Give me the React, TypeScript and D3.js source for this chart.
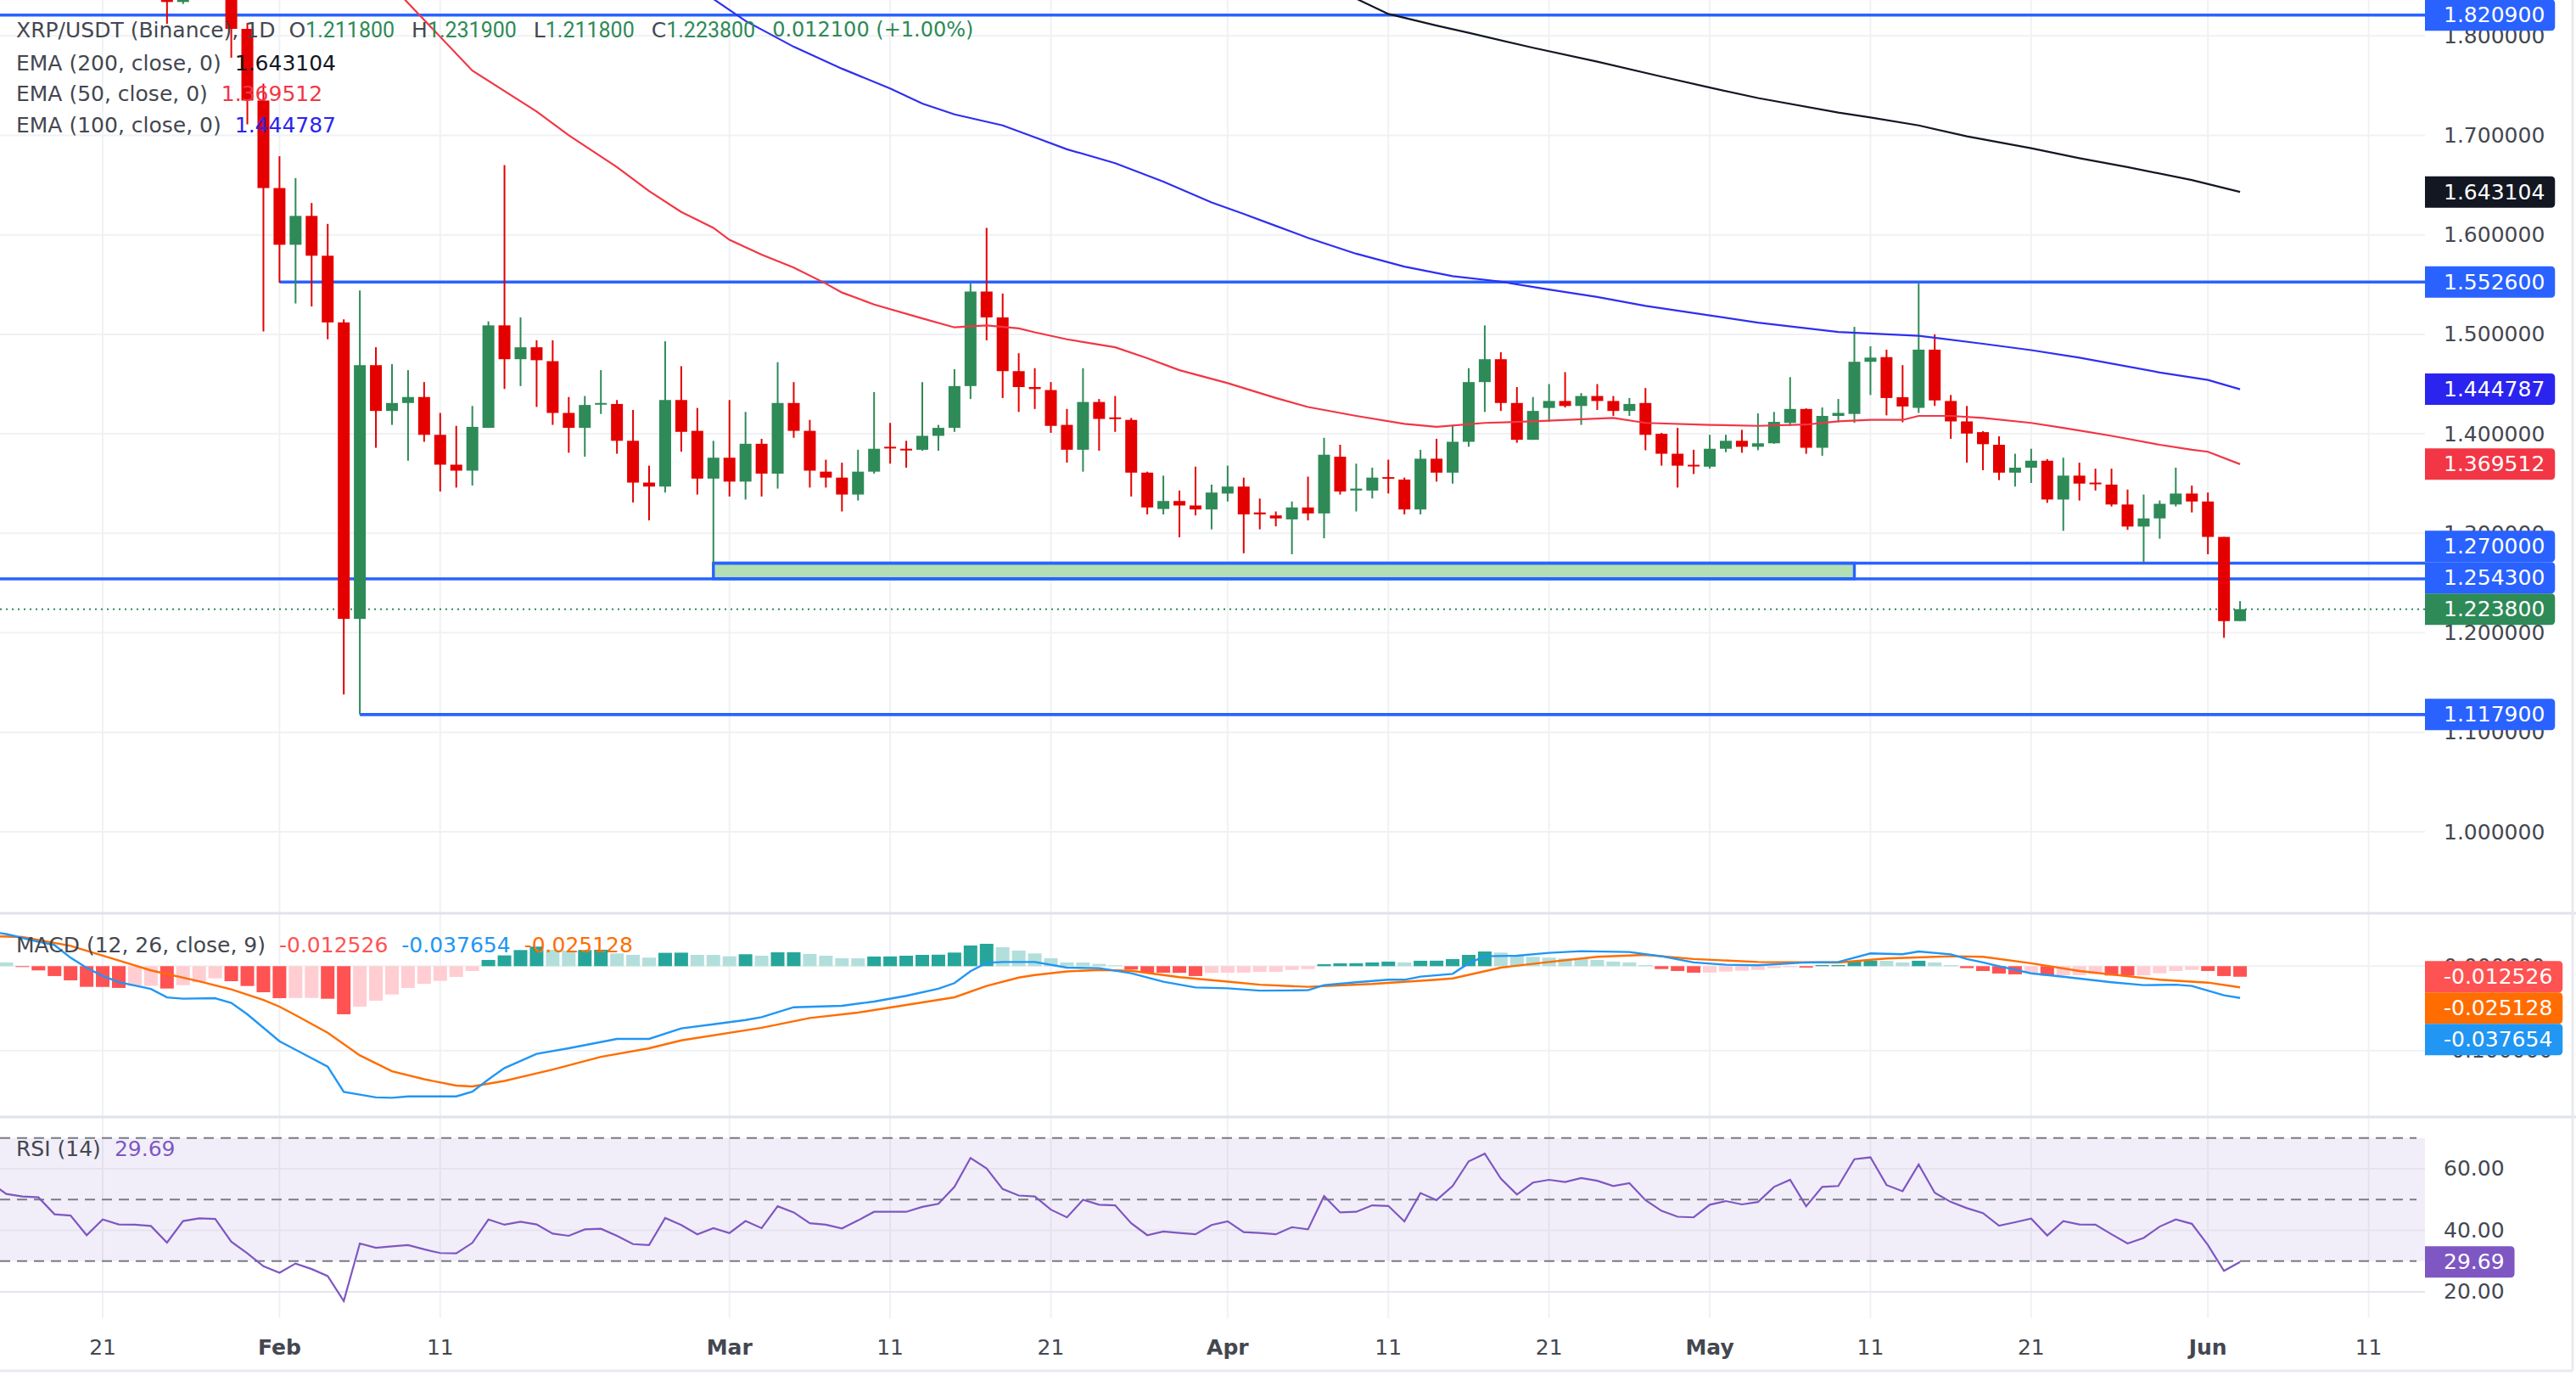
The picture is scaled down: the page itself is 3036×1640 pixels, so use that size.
import React from "react";
import * as d3 from "d3";

const YEAR = 2026;
const day = (s: string) => new Date(`${YEAR}-${s}T00:00:00Z`);

// ---------- Candles ----------
const candleDates = [
  "01-25","01-26","01-29","01-30","01-31",
  "02-01","02-02","02-03","02-04","02-05","02-06","02-07","02-08","02-09","02-10",
  "02-11","02-12","02-13","02-14","02-15","02-16","02-17","02-18","02-19","02-20",
  "02-21","02-22","02-23","02-24","02-25","02-26","02-27","02-28",
  "03-01","03-02","03-03","03-04","03-05","03-06","03-07","03-08","03-09","03-10",
  "03-11","03-12","03-13","03-14","03-15","03-16","03-17","03-18","03-19","03-20",
  "03-21","03-22","03-23","03-24","03-25","03-26","03-27","03-28","03-29","03-30","03-31",
  "04-01","04-02","04-03","04-04","04-05","04-06","04-07","04-08","04-09","04-10",
  "04-11","04-12","04-13","04-14","04-15","04-16","04-17","04-18","04-19","04-20",
  "04-21","04-22","04-23","04-24","04-25","04-26","04-27","04-28","04-29","04-30",
  "05-01","05-02","05-03","05-04","05-05","05-06","05-07","05-08","05-09","05-10",
  "05-11","05-12","05-13","05-14","05-15","05-16","05-17","05-18","05-19","05-20",
  "05-21","05-22","05-23","05-24","05-25","05-26","05-27","05-28","05-29","05-30","05-31",
  "06-01","06-02","06-03",
];
const opens = [
  1.870,1.834,1.875,1.807,1.735,
  1.647,1.590,1.619,1.579,1.512,1.214,1.469,1.423,1.431,1.437,
  1.399,1.369,1.363,1.406,1.509,1.475,1.487,1.473,1.421,1.406,
  1.430,1.430,1.393,1.351,1.347,1.434,1.403,1.355,
  1.376,1.352,1.390,1.360,1.431,1.403,1.362,1.356,1.339,1.362,
  1.387,1.385,1.384,1.398,1.406,1.448,1.543,1.517,1.463,1.447,
  1.444,1.409,1.384,1.432,1.4165,1.414,1.361,1.3245,1.3325,1.328,1.324,
  1.340,1.347,1.321,1.318,1.314,1.326,1.320,1.377,1.343,1.343,
  1.3565,1.354,1.324,1.375,1.361,1.392,1.452,1.475,1.431,1.394,
  1.426,1.433,1.428,1.438,1.433,1.423,1.431,1.400,1.380,1.3689,
  1.367,1.385,1.393,1.387,1.3905,1.411,1.425,1.386,1.418,1.420,
  1.4724,1.4771,1.4368,1.4261,1.4846,1.433,1.4125,1.4017,1.389,1.361,
  1.366,1.373,1.334,1.358,1.351,1.349,1.329,1.3068,1.315,1.329,1.340,
  1.332,1.2964,1.2118,
];
const highs = [
  1.905,1.900,1.895,1.813,1.752,
  1.679,1.657,1.632,1.611,1.515,1.544,1.487,1.470,1.464,1.452,
  1.421,1.408,1.428,1.513,1.670,1.517,1.494,1.494,1.437,1.438,
  1.464,1.434,1.424,1.368,1.493,1.468,1.426,1.393,
  1.434,1.422,1.395,1.472,1.452,1.414,1.374,1.371,1.384,1.442,
  1.411,1.393,1.452,1.409,1.465,1.551,1.607,1.541,1.481,1.466,
  1.452,1.425,1.466,1.435,1.438,1.416,1.362,1.358,1.343,1.367,1.349,
  1.368,1.356,1.335,1.322,1.332,1.357,1.396,1.389,1.370,1.366,
  1.374,1.356,1.384,1.395,1.409,1.466,1.509,1.482,1.447,1.437,
  1.450,1.462,1.441,1.450,1.438,1.436,1.446,1.401,1.406,1.384,
  1.399,1.399,1.404,1.4205,1.422,1.457,1.4256,1.4265,1.435,1.5075,
  1.488,1.4846,1.469,1.551,1.500,1.439,1.428,1.4027,1.3975,1.380,
  1.385,1.3746,1.376,1.371,1.365,1.365,1.344,1.339,1.333,1.366,1.348,
  1.341,1.2964,1.2319,
];
const lows = [
  1.812,1.832,1.778,1.711,1.503,
  1.552,1.531,1.528,1.495,1.138,1.1179,1.386,1.409,1.373,1.392,
  1.342,1.346,1.348,1.406,1.445,1.448,1.427,1.409,1.381,1.377,
  1.420,1.380,1.331,1.313,1.341,1.382,1.339,1.270,
  1.337,1.334,1.337,1.345,1.396,1.346,1.346,1.322,1.333,1.360,
  1.370,1.366,1.383,1.383,1.402,1.435,1.494,1.436,1.422,1.425,
  1.401,1.371,1.362,1.383,1.402,1.337,1.319,1.319,1.296,1.318,1.304,
  1.332,1.280,1.304,1.307,1.279,1.313,1.295,1.339,1.322,1.335,
  1.340,1.319,1.319,1.352,1.350,1.387,1.422,1.423,1.391,1.394,
  1.412,1.4265,1.409,1.424,1.418,1.418,1.3835,1.368,1.346,1.3596,
  1.365,1.3816,1.381,1.3835,1.390,1.408,1.380,1.378,1.4116,1.411,
  1.439,1.4186,1.4116,1.421,1.428,1.395,1.371,1.3634,1.3535,1.347,
  1.3507,1.3306,1.3025,1.333,1.343,1.327,1.3035,1.270,1.2946,1.327,1.321,
  1.279,1.195,1.2118,
];
const closes = [
  1.834,1.865,1.807,1.735,1.647,
  1.590,1.619,1.579,1.512,1.214,1.469,1.423,1.431,1.437,1.399,
  1.369,1.363,1.407,1.509,1.475,1.487,1.474,1.421,1.406,1.429,
  1.431,1.393,1.351,1.347,1.434,1.402,1.355,1.376,
  1.352,1.390,1.360,1.431,1.403,1.363,1.356,1.339,1.362,1.385,
  1.386,1.384,1.398,1.406,1.448,1.543,1.517,1.463,1.447,1.445,
  1.408,1.384,1.432,1.415,1.4148,1.361,1.326,1.3325,1.328,1.324,1.341,
  1.347,1.319,1.319,1.315,1.326,1.320,1.379,1.342,1.345,1.356,
  1.355,1.324,1.375,1.361,1.392,1.452,1.475,1.431,1.394,1.423,
  1.433,1.428,1.438,1.433,1.423,1.430,1.399,1.380,1.368,1.368,
  1.385,1.393,1.387,1.3905,1.412,1.425,1.386,1.418,1.421,1.4724,
  1.4766,1.436,1.4275,1.4846,1.4336,1.4125,1.4003,1.3896,1.361,1.366,
  1.373,1.334,1.358,1.350,1.3498,1.329,1.3068,1.315,1.3297,1.340,1.332,
  1.2964,1.2118,1.2238,
];

// ---------- EMAs (date, value) ----------
const ema50: [string, number][] = [
  ["02-08",1.850],["02-13",1.765],["02-17",1.724],["02-19",1.700],["02-22",1.668],
  ["02-24",1.644],["02-26",1.623],["02-28",1.607],["03-01",1.595],["03-03",1.580],
  ["03-05",1.567],["03-07",1.551],["03-08",1.542],["03-10",1.530],["03-13",1.516],
  ["03-15",1.507],["03-17",1.509],["03-19",1.506],["03-20",1.502],["03-22",1.495],
  ["03-25",1.487],["03-27",1.476],["03-29",1.464],["04-01",1.451],["04-04",1.436],
  ["04-06",1.427],["04-09",1.418],["04-12",1.410],["04-14",1.407],["04-17",1.411],
  ["04-20",1.4125],["04-25",1.416],["04-27",1.411],["05-01",1.409],["05-04",1.408],
  ["05-07",1.4093],["05-09",1.4125],["05-11",1.414],["05-13",1.414],["05-14",1.418],
  ["05-16",1.418],["05-18",1.416],["05-21",1.411],["05-23",1.406],["05-26",1.398],
  ["05-29",1.389],["05-31",1.384],["06-01",1.382],["06-03",1.369512],
];
const ema100: [string, number][] = [
  ["02-28",1.837],["03-02",1.815],["03-05",1.789],["03-08",1.767],["03-11",1.747],
  ["03-13",1.732],["03-15",1.721],["03-18",1.710],["03-20",1.698],["03-22",1.686],
  ["03-25",1.672],["03-28",1.6535],["03-31",1.6325],["04-02",1.621],["04-04",1.609],
  ["04-06",1.597],["04-09",1.581],["04-12",1.568],["04-15",1.5585],["04-18",1.553],
  ["04-21",1.545],["04-24",1.5375],["04-27",1.5286],["05-01",1.519],["05-04",1.5117],
  ["05-09",1.5024],["05-14",1.4986],["05-18",1.4905],["05-21",1.4841],["05-24",1.4765],
  ["05-29",1.4617],["06-01",1.4542],["06-03",1.444787],
];
const ema200: [string, number][] = [
  ["04-08",1.845],["04-11",1.822],["04-14",1.8103],["04-16",1.803],["04-20",1.788],
  ["04-24",1.774],["04-28",1.759],["05-01",1.748],["05-04",1.7375],["05-09",1.7228],
  ["05-11",1.718],["05-14",1.710],["05-17",1.699],["05-21",1.687],["05-24",1.677],
  ["05-27",1.668],["05-31",1.655],["06-03",1.643104],
];

// ---------- MACD ----------
const histStart = "01-15";
const histValues = [
  0.0044,-0.0010,-0.0050,-0.0117,-0.0168,-0.0245,-0.0246,-0.0258,-0.0235,-0.0234,-0.0265,-0.0225,-0.0191,-0.0144,-0.0178,-0.0235,-0.0309,
  -0.0379,-0.0377,-0.0376,-0.0386,-0.0570,-0.0480,-0.0409,-0.0336,-0.0258,-0.0208,-0.0174,-0.0128,-0.0057,0.0074,0.0128,0.0191,0.0232,0.0195,0.0185,0.0191,0.0195,0.0151,0.0134,0.0101,0.0158,0.0160,0.0134,0.0133,
  0.0117,0.0141,0.0124,0.0164,0.0165,0.0144,0.0124,0.0094,0.0093,0.0114,0.0115,0.0124,0.0134,0.0136,0.0161,0.0245,0.0265,0.0225,0.0185,0.0151,0.0094,0.0044,0.0043,0.0027,0.0010,-0.0040,-0.0077,-0.0078,-0.0079,-0.0117,-0.0080,
  -0.0077,-0.0076,-0.0068,-0.0067,-0.0044,-0.0034,0.0023,0.0034,0.0035,0.0044,0.0054,0.0044,0.0064,0.0065,0.0084,0.0134,0.0174,0.0161,0.0124,0.0111,0.0101,0.0091,0.0090,0.0074,0.0054,0.0044,0.0013,-0.0034,-0.0057,-0.0077,
  -0.0076,-0.0064,-0.0054,-0.0044,-0.0023,-0.0013,-0.0017,0.0013,0.0014,0.0054,0.0064,0.0063,0.0044,0.0064,0.0044,0.0013,-0.0023,-0.0057,-0.0087,-0.0097,-0.0077,-0.0111,-0.0108,-0.0107,-0.0094,-0.0111,-0.0112,-0.0108,-0.0084,-0.0057,-0.0044,
  -0.0057,-0.0117,-0.012526,
];
const macdLine: [string, number][] = [
  ["01-14",0.041],["01-15",0.038],["01-17",0.029],["01-18",0.025],["01-19",0.010],["01-20",-0.002],
  ["01-21",-0.0117],["01-22",-0.019],["01-24",-0.027],["01-25",-0.037],["01-26",-0.0386],["01-28",-0.038],
  ["01-29",-0.0436],["01-30",-0.057],["02-01",-0.089],["02-02",-0.099],["02-04",-0.119],["02-05",-0.149],
  ["02-07",-0.1555],["02-08",-0.156],["02-09",-0.1544],["02-11",-0.1544],["02-12",-0.1544],["02-13",-0.1487],
  ["02-14",-0.1342],["02-15",-0.1208],["02-17",-0.104],["02-19",-0.0973],["02-22",-0.0862],["02-24",-0.0862],
  ["02-26",-0.0738],["02-28",-0.0688],["03-02",-0.0638],["03-03",-0.0604],["03-05",-0.0487],["03-08",-0.047],
  ["03-10",-0.0419],["03-12",-0.0352],["03-14",-0.0268],["03-15",-0.0201],["03-16",-0.006],["03-17",0.004],
  ["03-18",0.005],["03-20",0.005],["03-22",-0.0017],["03-24",-0.0023],["03-26",-0.0084],["03-28",-0.0185],
  ["03-30",-0.0252],["04-01",-0.0262],["04-03",-0.029],["04-05",-0.0287],["04-06",-0.0285],["04-07",-0.0225],
  ["04-09",-0.0191],["04-11",-0.0161],["04-12",-0.0161],["04-13",-0.0124],["04-15",-0.0091],["04-16",0.0034],
  ["04-17",0.0117],["04-19",0.0124],["04-21",0.0158],["04-23",0.0178],["04-26",0.0168],["04-28",0.0117],
  ["04-30",0.0044],["05-02",0.0017],["05-04",0.001],["05-07",0.0044],["05-09",0.005],["05-11",0.0151],
  ["05-13",0.0141],["05-14",0.0174],["05-16",0.014],["05-17",0.0085],["05-18",0.0045],["05-19",0.0],
  ["05-21",-0.0085],["05-23",-0.0125],["05-26",-0.019],["05-28",-0.0225],["05-30",-0.022],["05-31",-0.0235],
  ["06-01",-0.029],["06-02",-0.0345],["06-03",-0.037654],
];
const signalLine: [string, number][] = [
  ["01-14",0.0355],["01-16",0.0345],["01-19",0.024],["01-22",0.0067],["01-24",-0.005],["01-27",-0.018],
  ["01-29",-0.0275],["01-31",-0.040],["02-01",-0.048],["02-02",-0.058],["02-04",-0.0789],["02-06",-0.1057],
  ["02-08",-0.1245],["02-10",-0.134],["02-12",-0.1416],["02-13",-0.1426],["02-15",-0.136],["02-18",-0.1225],
  ["02-21",-0.1074],["02-24",-0.0973],["02-26",-0.088],["03-03",-0.073],["03-06",-0.0615],["03-09",-0.055],
  ["03-12",-0.046],["03-15",-0.0369],["03-17",-0.0235],["03-19",-0.0135],["03-20",-0.0105],["03-22",-0.0063],
  ["03-24",-0.0045],["03-26",-0.0055],["03-29",-0.013],["04-01",-0.0183],["04-03",-0.022],["04-06",-0.0245],
  ["04-10",-0.0211],["04-14",-0.016],["04-15",-0.0145],["04-18",-0.0017],["04-21",0.005],["04-24",0.0111],
  ["04-27",0.0134],["04-30",0.0085],["05-04",0.005],["05-09",0.0044],["05-12",0.0091],["05-16",0.0117],
  ["05-18",0.0111],["05-21",0.0034],["05-24",-0.0057],["05-29",-0.016],["06-01",-0.0195],["06-03",-0.025128],
];

// ---------- RSI ----------
const rsiStart = "01-14";
const rsiValues = [
  55.5,51.8,51.0,50.7,45.2,44.8,38.4,43.5,41.9,41.8,41.4,36.0,43.0,43.9,43.7,36.3,32.5,28.3,
  26.2,29.2,27.4,25.1,17.0,35.7,34.3,34.8,35.2,33.8,32.6,32.5,35.9,43.5,41.8,42.8,41.9,38.9,38.2,40.3,40.5,38.2,35.5,35.2,44.0,41.7,38.7,40.7,
  39.1,43.0,40.7,47.8,45.8,42.3,41.8,40.6,43.2,46.0,46.0,46.0,47.6,48.6,54.1,63.5,60.1,53.4,51.3,51.0,46.7,44.2,49.9,48.3,48.1,42.3,38.4,39.6,39.1,38.7,41.7,
  42.9,39.4,39.1,38.7,41.0,40.3,51.1,45.8,46.0,48.1,47.9,42.9,52.1,49.8,54.4,62.4,64.9,56.8,51.6,55.5,56.4,55.7,57.0,56.1,54.4,55.3,49.8,46.3,44.4,44.2,
  48.3,49.5,48.4,49.2,54.1,56.4,47.8,54.1,54.4,63.1,63.7,54.7,52.7,61.4,52.2,49.2,47.2,45.6,41.5,42.6,43.8,38.3,43.0,41.9,41.8,38.7,35.7,37.5,41.2,43.5,42.1,
  35.2,26.8,29.69,
];

// ---------- Levels / ticks ----------
const levelValues = [1.8209, 1.5526, 1.27, 1.2543, 1.1179];
const levelStarts = ["01-01", "02-01", "02-28", "01-01", "02-06"];
const zoneRange = ["02-28", "05-10"];
const priceTicks = [1.0, 1.1, 1.2, 1.3, 1.4, 1.5, 1.6, 1.7, 1.8];
const macdTicks = [0, -0.1];
const rsiTicks = [60, 40, 20];
const rsiBands = [70, 50, 30];
const xTickDates = ["01-21","02-01","02-11","03-01","03-11","03-21","04-01","04-11","04-21","05-01","05-11","05-21","06-01","06-11"];
const xTickLabels = ["21","Feb","11","Mar","11","21","Apr","11","21","May","11","21","Jun","11"];
const ohlcLetters = ["O", "H", "L", "C"];
const ohlcValues = ["1.211800", "1.231900", "1.211800", "1.223800"];
const changeText = "0.012100 (+1.00%)";
const lastClose = 1.2238;

// ---------- styling ----------
const W = 3036, H = 1640;
const PLOT_R = 2858;
const MAIN_B = 1075;
const MACD_T = 1077, MACD_B = 1315;
const RSI_T = 1317, RSI_B = 1553;
const FONT = "'DejaVu Sans', sans-serif";
const FONT_NUM = "Roboto, 'DejaVu Sans', sans-serif";
const UP = "#2e8a57";
const DOWN = "#e50000";
const LEVEL = "#2962ff";
const GRID = "#f0f1f4";
const TXT = "#444750";

const charW = (ch: string) => (ch === "." ? 7.95 : ch === "-" ? 9 : /[0-9]/.test(ch) ? 15.9 : 15);
const textW = (s: string) => s.split("").reduce((a, c) => a + charW(c), 0);

type Lab = { y: number; text: string; bg: string };
function stackLabels(labels: Lab[], dir: "up" | "down", h = 37) {
  const s = labels.map((l) => ({ ...l, cy: l.y }));
  if (dir === "up") {
    s.sort((a, b) => b.y - a.y);
    for (let i = 1; i < s.length; i++) {
      const lim = s[i - 1].cy - h;
      if (s[i].cy > lim) s[i].cy = lim;
    }
  } else {
    for (let i = 1; i < s.length; i++) {
      const lim = s[i - 1].cy + h;
      if (s[i].cy < lim) s[i].cy = lim;
    }
  }
  return s;
}

function boxPath(x0: number, x1: number, cy: number, h: number, r = 5) {
  const y0 = cy - h / 2, y1 = cy + h / 2;
  return `M${x0},${y0}H${x1 - r}Q${x1},${y0} ${x1},${y0 + r}V${y1 - r}Q${x1},${y1} ${x1 - r},${y1}H${x0}Z`;
}

export default function App() {
  const x = d3.scaleUtc().domain([day("02-01"), day("06-01")]).range([329.4, 329.4 + 120 * 18.94]);
  const yP = d3.scaleLinear().domain([0.919, 1.836]).range([MAIN_B, 0]);
  const yM = d3.scaleLinear().domain([-0.1, 0]).range([1237.7, 1138.3]);
  const yR = d3.scaleLinear().domain([30, 70]).range([1485.7, 1340.7]);

  const lineP = d3.line<[string, number]>().x((d) => x(day(d[0]))).y((d) => yP(d[1]));
  const lineM = d3.line<[string, number]>().x((d) => x(day(d[0]))).y((d) => yM(d[1]));
  const rsiPath = d3
    .line<number>()
    .x((_, i) => x(d3.utcDay.offset(day(rsiStart), i)))
    .y((v) => yR(v))(rsiValues);

  const bodyW = 14;
  const histW = 16;

  const priceLabels = stackLabels(
    [
      { y: yP(1.8209), text: "1.820900", bg: LEVEL },
      { y: yP(1.643104), text: "1.643104", bg: "#131722" },
      { y: yP(1.5526), text: "1.552600", bg: LEVEL },
      { y: yP(1.444787), text: "1.444787", bg: "#2b24ee" },
      { y: yP(1.369512), text: "1.369512", bg: "#f23645" },
      { y: yP(1.27), text: "1.270000", bg: LEVEL },
      { y: yP(1.2543), text: "1.254300", bg: LEVEL },
      { y: yP(1.2238), text: "1.223800", bg: UP },
      { y: yP(1.1179), text: "1.117900", bg: LEVEL },
    ],
    "up"
  );
  const macdLabels = stackLabels(
    [
      { y: yM(-0.012526), text: "-0.012526", bg: "#ff5252" },
      { y: yM(-0.025128), text: "-0.025128", bg: "#ff6d00" },
      { y: yM(-0.037654), text: "-0.037654", bg: "#2196f3" },
    ],
    "down"
  );
  const rsiLabel = { y: yR(29.69), text: "29.69", bg: "#7e57c2" };

  const renderLabel = (l: { cy?: number; y: number; text: string; bg: string }, key: string) => {
    const cy = l.cy ?? l.y;
    const x1 = 2880 + textW(l.text) + 12;
    return (
      <g key={key}>
        <path d={boxPath(PLOT_R, x1, cy, 37)} fill={l.bg} />
        <text x={2880} y={cy} dominantBaseline="central" fill="#fff" fontSize={25} fontFamily={FONT}>
          {l.text}
        </text>
      </g>
    );
  };

  return (
    <div style={{ position: "absolute", left: 0, top: 0, background: "#fff" }}>
      <svg width={W} height={H} viewBox={`0 0 ${W} ${H}`} style={{ display: "block" }}>
        <defs>
          <clipPath id="clipMain"><rect x={0} y={0} width={PLOT_R} height={MAIN_B} /></clipPath>
          <clipPath id="clipMacd"><rect x={0} y={MACD_T} width={PLOT_R} height={MACD_B - MACD_T} /></clipPath>
          <clipPath id="clipRsi"><rect x={0} y={RSI_T} width={PLOT_R} height={RSI_B - RSI_T} /></clipPath>
        </defs>
        <rect x={0} y={0} width={W} height={H} fill="#fff" />

        {/* vertical grid */}
        {xTickDates.map((d) => (
          <line key={"vg" + d} x1={x(day(d))} x2={x(day(d))} y1={0} y2={RSI_B} stroke={GRID} strokeWidth={2} />
        ))}
        {/* horizontal grid */}
        {priceTicks.map((t) => (
          <line key={"pg" + t} x1={0} x2={PLOT_R} y1={yP(t)} y2={yP(t)} stroke={GRID} strokeWidth={2} />
        ))}
        {macdTicks.map((t) => (
          <line key={"mg" + t} x1={0} x2={PLOT_R} y1={yM(t)} y2={yM(t)} stroke={GRID} strokeWidth={2} />
        ))}

        {/* RSI band */}
        <rect x={0} y={yR(70)} width={PLOT_R} height={yR(30) - yR(70)} fill="#7e57c2" fillOpacity={0.1} />
        {rsiTicks.map((t) => (
          <line key={"rg" + t} x1={0} x2={PLOT_R} y1={yR(t)} y2={yR(t)} stroke="#e6e3ee" strokeWidth={2} />
        ))}
        {rsiBands.map((t) => (
          <line key={"rb" + t} x1={0} x2={PLOT_R - 10} y1={yR(t)} y2={yR(t)} stroke="#787b86" strokeWidth={2} strokeDasharray="12 8" />
        ))}

        {/* pane separators */}
        <line x1={0} x2={W} y1={1076} y2={1076} stroke="#e0e3eb" strokeWidth={3} />
        <line x1={0} x2={W} y1={1316} y2={1316} stroke="#e0e3eb" strokeWidth={3} />
        <line x1={0} x2={3032} y1={1615} y2={1615} stroke="#e8eaf0" strokeWidth={3} />
        <line x1={3032} x2={3032} y1={0} y2={1615} stroke="#e8eaf0" strokeWidth={3} />

        {/* main pane */}
        <g clipPath="url(#clipMain)">
          <rect
            x={x(day(zoneRange[0]))}
            y={yP(1.27)}
            width={x(day(zoneRange[1])) - x(day(zoneRange[0]))}
            height={yP(1.2543) - yP(1.27)}
            fill="#b3dfb4"
            stroke={LEVEL}
            strokeWidth={3.4}
          />
          {levelValues.map((v, i) => (
            <line key={"lv" + i} x1={Math.max(0, x(day(levelStarts[i])))} x2={PLOT_R} y1={yP(v)} y2={yP(v)} stroke={LEVEL} strokeWidth={3.6} />
          ))}
          <line x1={0} x2={PLOT_R} y1={yP(lastClose)} y2={yP(lastClose)} stroke={UP} strokeWidth={2} strokeDasharray="2 5" />

          {candleDates.map((d, i) => {
            const cx = x(day(d));
            const o = opens[i], c = closes[i];
            const col = c >= o ? UP : DOWN;
            const top = yP(Math.max(o, c));
            const bot = yP(Math.min(o, c));
            return (
              <g key={"c" + d}>
                <line x1={cx} x2={cx} y1={yP(highs[i])} y2={yP(lows[i])} stroke={col} strokeWidth={2} />
                <rect x={cx - bodyW / 2} y={top} width={bodyW} height={Math.max(2, bot - top)} fill={col} />
              </g>
            );
          })}

          <path d={lineP(ema200) || ""} fill="none" stroke="#131722" strokeWidth={2.2} />
          <path d={lineP(ema100) || ""} fill="none" stroke="#2f2ff0" strokeWidth={2.2} />
          <path d={lineP(ema50) || ""} fill="none" stroke="#f23645" strokeWidth={2.2} />
        </g>

        {/* MACD pane */}
        <g clipPath="url(#clipMacd)">
          {histValues.map((v, i) => {
            const d = d3.utcDay.offset(day(histStart), i);
            const prev = i > 0 ? histValues[i - 1] : undefined;
            let col: string;
            if (v >= 0) col = prev !== undefined && v > prev ? "#26a69a" : "#b2dfdb";
            else col = prev !== undefined && v < prev ? "#ff5252" : "#ffcdd2";
            const y0 = yM(0), y1 = yM(v);
            return <rect key={"h" + i} x={x(d) - histW / 2} y={Math.min(y0, y1)} width={histW} height={Math.abs(y1 - y0)} fill={col} />;
          })}
          <path d={lineM(signalLine) || ""} fill="none" stroke="#ff6d00" strokeWidth={2.4} />
          <path d={lineM(macdLine) || ""} fill="none" stroke="#2196f3" strokeWidth={2.4} />
        </g>

        {/* RSI pane */}
        <g clipPath="url(#clipRsi)">
          <path d={rsiPath || ""} fill="none" stroke="#7e57c2" strokeWidth={2.2} />
        </g>

        {/* axis tick labels */}
        {priceTicks.map((t) => (
          <text key={"pt" + t} x={2880} y={yP(t)} dominantBaseline="central" fill={TXT} fontSize={25} fontFamily={FONT}>
            {t.toFixed(6)}
          </text>
        ))}
        {macdTicks.map((t) => (
          <text key={"mt" + t} x={2880} y={yM(t)} dominantBaseline="central" fill={TXT} fontSize={25} fontFamily={FONT}>
            {t.toFixed(6)}
          </text>
        ))}
        {rsiTicks.map((t) => (
          <text key={"rt" + t} x={2880} y={yR(t)} dominantBaseline="central" fill={TXT} fontSize={25} fontFamily={FONT}>
            {t.toFixed(2)}
          </text>
        ))}
        {xTickDates.map((d, i) => (
          <text
            key={"xt" + d}
            x={x(day(d))}
            y={1587}
            textAnchor="middle"
            dominantBaseline="central"
            fill={TXT}
            fontSize={25}
            fontWeight={/[A-Za-z]/.test(xTickLabels[i]) ? "bold" : "normal"}
            fontFamily={FONT}
          >
            {xTickLabels[i]}
          </text>
        ))}

        {/* value labels */}
        {priceLabels.map((l, i) => renderLabel(l, "pl" + i))}
        {macdLabels.map((l, i) => renderLabel(l, "ml" + i))}
        {renderLabel(rsiLabel, "rl")}

        {/* legends */}
        <g fontFamily={FONT} fontSize={25} dominantBaseline="central">
          <text x={19} y={35} fill={TXT}>
            <tspan>XRP/USDT (Binance), 1D</tspan>
            {ohlcLetters.map((k, i) => (
              <React.Fragment key={"ohlc" + k}>
                <tspan dx={i === 0 ? 16 : 20}>{k}</tspan>
                <tspan fill={UP} fontFamily={FONT_NUM}>{ohlcValues[i]}</tspan>
              </React.Fragment>
            ))}
            <tspan dx={20} fill={UP} fontSize={24}>{changeText}</tspan>
          </text>
          <text x={19} y={74} fill={TXT}>
            <tspan>EMA (200, close, 0)</tspan><tspan dx={16} fill="#131722">1.643104</tspan>
          </text>
          <text x={19} y={110} fill={TXT}>
            <tspan>EMA (50, close, 0)</tspan><tspan dx={16} fill="#f23645">1.369512</tspan>
          </text>
          <text x={19} y={147} fill={TXT}>
            <tspan>EMA (100, close, 0)</tspan><tspan dx={16} fill="#2b24ee">1.444787</tspan>
          </text>
          <text x={19} y={1113} fill={TXT}>
            <tspan>MACD (12, 26, close, 9)</tspan>
            <tspan dx={16} fill="#ff5252">-0.012526</tspan>
            <tspan dx={16} fill="#2196f3">-0.037654</tspan>
            <tspan dx={16} fill="#ff6d00">-0.025128</tspan>
          </text>
          <text x={19} y={1353} fill={TXT}>
            <tspan>RSI (14)</tspan>
            <tspan dx={16} fill="#7e57c2">29.69</tspan>
          </text>
        </g>
      </svg>
    </div>
  );
}
